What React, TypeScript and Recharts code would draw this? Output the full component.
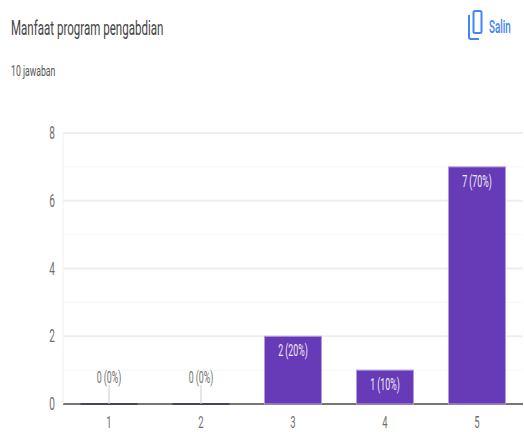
import React from 'react';
import { BarChart, Bar, XAxis, YAxis, CartesianGrid, LabelList } from 'recharts';

const categories = ['1', '2', '3', '4', '5'];
const counts = [0, 0, 2, 1, 7];
const labels = ['0 (0%)', '0 (0%)', '2 (20%)', '1 (10%)', '7 (70%)'];
const majorTicks = [2, 4, 6, 8];
const minorTicks = [1, 3, 5, 7];
const baseline = [0];

const data = categories.map((category, i) => ({ category, count: counts[i], label: labels[i] }));

const FONT = 'Roboto, sans-serif';

// Tall condensed text, squeezed horizontally around its anchor
const NarrowText = ({ x, y, size, fill, anchor, squeeze = 0.52, weight, children }: any) => (
  <text
    transform={`translate(${x} ${y}) scale(${squeeze} 1)`}
    fontFamily={FONT}
    fontSize={size}
    fontWeight={weight}
    fill={fill}
    textAnchor={anchor}
  >
    {children}
  </text>
);

const XTick = ({ x, payload }: any) => (
  <NarrowText x={x} y={427.5} size={17} squeeze={0.56} fill="#6f6f6f" anchor="middle">{payload.value}</NarrowText>
);

const YTick = ({ x, y, payload }: any) => (
  <NarrowText x={x} y={y + 6} size={18} squeeze={0.56} fill="#6f6f6f" anchor="end">{payload.value}</NarrowText>
);

const BarShape = ({ x, y, width, height }: any) => (
  height > 0
    ? <rect x={x} y={y} width={width} height={height} fill="#673ab7" stroke="#b39ddb" strokeWidth={1} />
    : <rect x={x} y={y - 1} width={width} height={2} fill="#4a4266" />
);

const BarLabel = ({ x, y, width, index }: any) => {
  const cx = x + width / 2;
  if (counts[index] === 0) {
    return (
      <g>
        <line x1={cx} x2={cx} y1={y - 19} y2={y} stroke="#ccc" strokeWidth={1} />
        <NarrowText x={cx} y={y - 21} size={17} fill="#6f6f6f" anchor="middle">{labels[index]}</NarrowText>
      </g>
    );
  }
  return <NarrowText x={cx} y={y + 20} size={17} fill="#eee" anchor="middle">{labels[index]}</NarrowText>;
};

const Header = () => (
  <svg width={524} height={100} style={{ position: 'absolute', left: 0, top: 0 }}>
    <NarrowText x={11} y={35} size={21} squeeze={0.55} fill="#444">Manfaat program pengabdian</NarrowText>
    <NarrowText x={11} y={76} size={15} squeeze={0.58} fill="#555">10 jawaban</NarrowText>
    <rect x={473.5} y={11} width={8} height={22} rx={1.5} fill="none" stroke="#4285f4" strokeWidth={2} />
    <path d="M469 15 V37 Q469 39 471 39 H479" fill="none" stroke="#4285f4" strokeWidth={2} />
    <NarrowText x={489} y={33} size={19} squeeze={0.52} weight={500} fill="#4285f4">Salin</NarrowText>
  </svg>
);

export default function App() {
  return (
    <div style={{ position: 'absolute', left: 0, top: 0, width: 524, height: 432, background: '#fff' }}>
      <Header />
      <div style={{ position: 'absolute', left: 0, top: 0 }}>
        <BarChart
          width={524}
          height={432}
          data={data}
          margin={{ top: 133, right: 1, bottom: 0, left: 0 }}
          barCategoryGap="19%"
        >
          <CartesianGrid stroke="#f6f6f6" strokeWidth={1} vertical={false} horizontalValues={minorTicks} />
          <CartesianGrid stroke="#eeeeee" strokeWidth={2} vertical={false} horizontalValues={majorTicks} />
          <CartesianGrid stroke="#757575" strokeWidth={2} vertical={false} horizontalValues={baseline} />
          <XAxis dataKey="category" height={28} tick={<XTick />} tickLine={false} axisLine={false} />
          <YAxis
            width={63}
            domain={[0, 8]}
            ticks={[0, ...majorTicks]}
            tick={<YTick />}
            tickLine={false}
            axisLine={{ stroke: '#f0f0f0', strokeWidth: 1 }}
          />
          <Bar dataKey="count" shape={<BarShape />} isAnimationActive={false}>
            <LabelList dataKey="label" content={<BarLabel />} />
          </Bar>
        </BarChart>
      </div>
    </div>
  );
}
